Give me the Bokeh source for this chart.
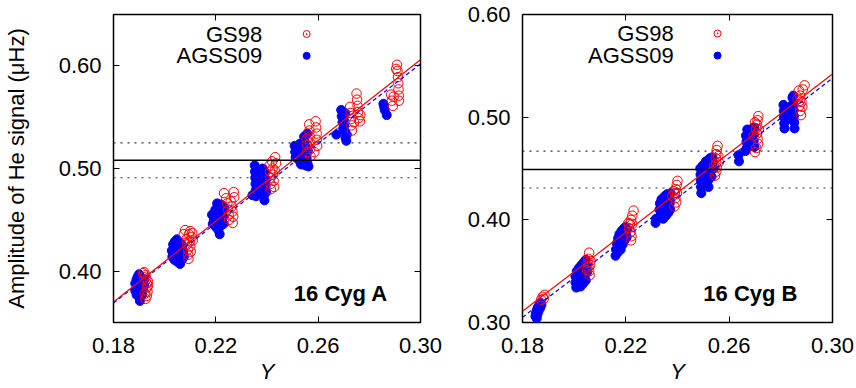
from bokeh.plotting import figure
from bokeh.layouts import row
from bokeh.models import Range1d, LinearAxis, FixedTicker, NumeralTickFormatter, Span, Label
from bokeh.embed import file_html
from bokeh.resources import INLINE

FONT = "Liberation Sans"

# ---------------- data ----------------
x_ticks = [0.18, 0.22, 0.26, 0.30]
yA_ticks = [0.40, 0.50, 0.60]
yB_ticks = [0.30, 0.40, 0.50, 0.60]

# 16 Cyg A, AGSS09 (filled blue)
A_agss_Y = [0.1885, 0.1885, 0.1890, 0.1890, 0.1890, 0.1895, 0.1895, 0.1895, 0.1900, 0.1900, 0.1900, 0.1900,
            0.1903, 0.1905, 0.1905, 0.1905, 0.1910, 0.1910, 0.1912, 0.1915, 0.1915, 0.1920, 0.1920,
            0.2028, 0.2030, 0.2033, 0.2035, 0.2038, 0.2040, 0.2042, 0.2045, 0.2048, 0.2050, 0.2050, 0.2053,
            0.2055, 0.2058, 0.2060, 0.2062, 0.2065, 0.2068, 0.2070, 0.2073, 0.2075,
            0.2185, 0.2188, 0.2192, 0.2198, 0.2200, 0.2203, 0.2205, 0.2207, 0.2208, 0.2210, 0.2212, 0.2213,
            0.2215, 0.2217, 0.2218, 0.2220, 0.2222, 0.2225, 0.2228, 0.2230, 0.2232,
            0.2343, 0.2352, 0.2353, 0.2354, 0.2355, 0.2356, 0.2357, 0.2365, 0.2368, 0.2372, 0.2380, 0.2383,
            0.2385, 0.2387, 0.2388, 0.2390, 0.2392, 0.2393, 0.2395, 0.2397,
            0.2508, 0.2510, 0.2512, 0.2520, 0.2525, 0.2528, 0.2530, 0.2533, 0.2538, 0.2540, 0.2545, 0.2547,
            0.2548, 0.2550, 0.2552, 0.2555, 0.2557, 0.2558, 0.2560, 0.2562,
            0.2671, 0.2690, 0.2692, 0.2695, 0.2698, 0.2700, 0.2702, 0.2705, 0.2707, 0.2710, 0.2712, 0.2706,
            0.2855, 0.2860, 0.2868, 0.2858]
A_agss_amp = [0.388, 0.381, 0.392, 0.384, 0.377, 0.395, 0.388, 0.380, 0.397, 0.390, 0.383, 0.375,
              0.371, 0.393, 0.386, 0.379, 0.391, 0.384, 0.377, 0.389, 0.382, 0.392, 0.386,
              0.420, 0.414, 0.426, 0.418, 0.411, 0.429, 0.422, 0.416, 0.431, 0.425, 0.409, 0.419,
              0.413, 0.428, 0.407, 0.422, 0.416, 0.411, 0.425, 0.419, 0.414,
              0.455, 0.446, 0.450, 0.460, 0.443, 0.453, 0.466, 0.458, 0.447, 0.440, 0.462, 0.451,
              0.436, 0.456, 0.444, 0.465, 0.449, 0.459, 0.453, 0.446, 0.462,
              0.474, 0.503, 0.497, 0.491, 0.485, 0.479, 0.473, 0.488, 0.481, 0.476, 0.494, 0.500,
              0.487, 0.480, 0.474, 0.469, 0.496, 0.490, 0.483, 0.477,
              0.522, 0.516, 0.511, 0.519, 0.508, 0.524, 0.514, 0.504, 0.520, 0.509, 0.531, 0.526,
              0.515, 0.503, 0.521, 0.510, 0.534, 0.505, 0.517, 0.502,
              0.533, 0.557, 0.551, 0.545, 0.539, 0.548, 0.542, 0.536, 0.530, 0.527, 0.533, 0.554,
              0.563, 0.557, 0.552, 0.560]

# 16 Cyg A, GS98 (open red)
A_gs98_Y = [0.1915, 0.1920, 0.1925, 0.1928, 0.1930, 0.1932, 0.1933, 0.1930, 0.1925, 0.1922, 0.1920, 0.1935, 0.1935,
            0.2075, 0.2080, 0.2085, 0.2088, 0.2090, 0.2092, 0.2093, 0.2095, 0.2100, 0.2098, 0.2100, 0.2102,
            0.2105, 0.2108, 0.2110,
            0.2232, 0.2240, 0.2245, 0.2248, 0.2250, 0.2252, 0.2258, 0.2262, 0.2265, 0.2268, 0.2270, 0.2272, 0.2266,
            0.2410, 0.2412, 0.2413, 0.2414, 0.2415, 0.2420, 0.2422, 0.2424, 0.2426, 0.2428, 0.2432, 0.2435, 0.2430,
            0.2555, 0.2556, 0.2557, 0.2565, 0.2566, 0.2567, 0.2568, 0.2569, 0.2570, 0.2590, 0.2592, 0.2594,
            0.2595, 0.2596, 0.2585,
            0.2725, 0.2727, 0.2728, 0.2730, 0.2732, 0.2740, 0.2750, 0.2752, 0.2754, 0.2756, 0.2758, 0.2765, 0.2763,
            0.2908, 0.2910, 0.2912, 0.2913, 0.2914, 0.2915, 0.2916, 0.2885, 0.2888, 0.2892, 0.2895, 0.2905]
A_gs98_amp = [0.398, 0.399, 0.396, 0.392, 0.388, 0.384, 0.380, 0.376, 0.373, 0.378, 0.394, 0.390, 0.386,
              0.436, 0.440, 0.431, 0.426, 0.421, 0.416, 0.412, 0.436, 0.439, 0.429, 0.424, 0.419,
              0.433, 0.437, 0.430,
              0.476, 0.471, 0.466, 0.460, 0.455, 0.450, 0.468, 0.463, 0.458, 0.453, 0.477, 0.472, 0.447,
              0.503, 0.497, 0.491, 0.485, 0.480, 0.507, 0.500, 0.494, 0.488, 0.482, 0.511, 0.505, 0.498,
              0.529, 0.523, 0.516, 0.543, 0.537, 0.531, 0.525, 0.519, 0.512, 0.546, 0.540, 0.534,
              0.528, 0.522, 0.516,
              0.560, 0.554, 0.548, 0.542, 0.537, 0.545, 0.573, 0.567, 0.561, 0.555, 0.549, 0.552, 0.546,
              0.601, 0.595, 0.589, 0.583, 0.577, 0.571, 0.566, 0.572, 0.566, 0.561, 0.570, 0.597]

# 16 Cyg B, AGSS09 (filled blue)
B_agss_Y = [0.1850, 0.1852, 0.1855, 0.1858, 0.1860, 0.1862, 0.1865, 0.1868, 0.1870, 0.1873, 0.1855,
            0.2005, 0.2005, 0.2008, 0.2010, 0.2012, 0.2015, 0.2018, 0.2020, 0.2022, 0.2025, 0.2028, 0.2030,
            0.2032, 0.2035, 0.2038, 0.2040, 0.2042, 0.2045, 0.2048, 0.2050, 0.2045,
            0.2160, 0.2162, 0.2165, 0.2168, 0.2170, 0.2173, 0.2175, 0.2178, 0.2180, 0.2183, 0.2185, 0.2188,
            0.2190, 0.2193, 0.2195, 0.2198, 0.2200, 0.2203, 0.2205,
            0.2315, 0.2317, 0.2330, 0.2332, 0.2335, 0.2338, 0.2340, 0.2342, 0.2345, 0.2348, 0.2350, 0.2352,
            0.2355, 0.2358, 0.2360, 0.2362, 0.2365, 0.2368, 0.2370, 0.2373, 0.2372,
            0.2488, 0.2489, 0.2490, 0.2491, 0.2492, 0.2498, 0.2500, 0.2502, 0.2505, 0.2510, 0.2512, 0.2515,
            0.2518, 0.2520, 0.2525, 0.2528, 0.2530, 0.2532, 0.2535, 0.2538, 0.2540,
            0.2636, 0.2638, 0.2663, 0.2665, 0.2667, 0.2668, 0.2670, 0.2673, 0.2675, 0.2680, 0.2683, 0.2685,
            0.2690, 0.2692, 0.2695, 0.2697, 0.2698,
            0.2810, 0.2812, 0.2813, 0.2814, 0.2811, 0.2838, 0.2840, 0.2842, 0.2845, 0.2847, 0.2849, 0.2851,
            0.2852, 0.2853, 0.2848]
B_agss_amp = [0.306, 0.309, 0.312, 0.308, 0.315, 0.311, 0.317, 0.314, 0.319, 0.317, 0.304,
              0.345, 0.339, 0.334, 0.350, 0.343, 0.337, 0.353, 0.347, 0.340, 0.335, 0.356, 0.350,
              0.344, 0.338, 0.359, 0.353, 0.347, 0.361, 0.355, 0.349, 0.341,
              0.365, 0.371, 0.377, 0.368, 0.382, 0.374, 0.386, 0.379, 0.371, 0.389, 0.383, 0.376,
              0.391, 0.386, 0.380, 0.393, 0.388, 0.383, 0.391,
              0.397, 0.401, 0.410, 0.416, 0.404, 0.420, 0.412, 0.406, 0.401, 0.417, 0.423, 0.410,
              0.404, 0.418, 0.425, 0.413, 0.407, 0.421, 0.416, 0.426, 0.410,
              0.450, 0.444, 0.438, 0.432, 0.426, 0.453, 0.447, 0.441, 0.435, 0.457, 0.450, 0.444,
              0.438, 0.432, 0.460, 0.454, 0.448, 0.442, 0.461, 0.456, 0.450,
              0.463, 0.457, 0.467, 0.482, 0.476, 0.470, 0.488, 0.480, 0.474, 0.485, 0.478, 0.472,
              0.489, 0.483, 0.477, 0.490, 0.471,
              0.512, 0.500, 0.494, 0.489, 0.506, 0.510, 0.504, 0.498, 0.519, 0.513, 0.507, 0.501,
              0.495, 0.489, 0.521]

# 16 Cyg B, GS98 (open red)
B_gs98_Y = [0.1872, 0.1878, 0.1885, 0.1882,
            0.2058, 0.2055, 0.2052, 0.2055, 0.2058, 0.2060, 0.2062, 0.2050, 0.2063,
            0.2230, 0.2225, 0.2220, 0.2215, 0.2212, 0.2218, 0.2222, 0.2225, 0.2210, 0.2220,
            0.2400, 0.2397, 0.2393, 0.2390, 0.2392, 0.2395, 0.2385, 0.2380, 0.2398, 0.2388,
            0.2555, 0.2552, 0.2550, 0.2548, 0.2550, 0.2552, 0.2550, 0.2545, 0.2558, 0.2560, 0.2542,
            0.2713, 0.2710, 0.2707, 0.2705, 0.2708, 0.2710, 0.2712, 0.2705, 0.2700, 0.2715, 0.2700, 0.2695,
            0.2892, 0.2885, 0.2870, 0.2875, 0.2873, 0.2872, 0.2875, 0.2878, 0.2880, 0.2883, 0.2865]
B_gs98_amp = [0.322, 0.325, 0.327, 0.323,
              0.368, 0.362, 0.358, 0.354, 0.350, 0.346, 0.356, 0.351, 0.360,
              0.409, 0.404, 0.400, 0.396, 0.392, 0.388, 0.384, 0.396, 0.397, 0.380,
              0.438, 0.434, 0.430, 0.426, 0.421, 0.417, 0.428, 0.423, 0.426, 0.413,
              0.472, 0.468, 0.464, 0.460, 0.455, 0.451, 0.447, 0.443, 0.462, 0.456, 0.452,
              0.501, 0.497, 0.493, 0.489, 0.484, 0.479, 0.474, 0.470, 0.466, 0.488, 0.495, 0.482,
              0.531, 0.527, 0.526, 0.521, 0.516, 0.511, 0.506, 0.502, 0.515, 0.510, 0.518]

# linear fits (end points over the Y range)
fit_Y = [0.18, 0.30]
A_fit_gs98 = [0.370, 0.606]
A_fit_agss = [0.369, 0.602]
B_fit_gs98 = [0.311, 0.542]
B_fit_agss = [0.305, 0.538]

# observed amplitude and 1-sigma band
A_obs, A_err = 0.508, 0.017
B_obs, B_err = 0.449, 0.018

RED = "#ff0000"
BLUE = "#0000ff"


def make_panel(width, yr, yticks, border_left, border_right, ylabel,
               agY, agA, gsY, gsA, fit_gs, fit_ag, obs, err, name, leg_pos, name_pos):
    p = figure(width=width, height=388, output_backend="svg", toolbar_location=None,
               x_range=Range1d(0.18, 0.30), y_range=Range1d(*yr),
               min_border_left=border_left, min_border_right=border_right,
               min_border_top=14, min_border_bottom=66, x_axis_location=None, y_axis_location=None)
    p.background_fill_color = "white"
    p.border_fill_color = "white"
    p.outline_line_color = "black"
    p.outline_line_width = 1.5
    p.xgrid.visible = False
    p.ygrid.visible = False

    def style(ax, show_labels):
        ax.axis_line_color = None
        ax.major_tick_in = 6
        ax.major_tick_out = 0
        ax.major_tick_line_color = "black"
        ax.major_tick_line_width = 1
        ax.minor_tick_line_color = None
        ax.formatter = NumeralTickFormatter(format="0.00")
        ax.major_label_text_font = FONT
        if show_labels:
            ax.major_label_text_color = "black"
            ax.major_label_text_font_size = "22px"
            ax.major_label_standoff = 12
        else:
            ax.major_label_text_color = None
            ax.major_label_text_font_size = "1px"
            ax.major_label_standoff = 0

    xb = LinearAxis(ticker=FixedTicker(ticks=x_ticks))
    style(xb, True)
    xb.major_label_standoff = 15
    xb.axis_label = "Y"
    xb.axis_label_text_font = FONT
    xb.axis_label_text_font_size = "22px"
    xb.axis_label_text_font_style = "italic"
    xb.axis_label_text_color = "black"
    xb.axis_label_standoff = 3
    p.add_layout(xb, "below")
    xt = LinearAxis(ticker=FixedTicker(ticks=x_ticks))
    style(xt, False)
    p.add_layout(xt, "above")
    yl = LinearAxis(ticker=FixedTicker(ticks=yticks))
    style(yl, True)
    if ylabel:
        yl.axis_label = ylabel
        yl.axis_label_text_font = FONT
        yl.axis_label_text_font_size = "22px"
        yl.axis_label_text_font_style = "normal"
        yl.axis_label_text_color = "black"
        yl.axis_label_standoff = 27
    p.add_layout(yl, "left")
    yrt = LinearAxis(ticker=FixedTicker(ticks=yticks))
    style(yrt, False)
    p.add_layout(yrt, "right")

    # points
    p.scatter(agY, agA, marker="circle", size=9, fill_color=BLUE, line_color=BLUE)
    p.scatter(gsY, gsA, marker="circle", size=9.5, fill_color=None, line_color=RED, line_width=1)

    # fit lines
    p.line(fit_Y, fit_ag, line_color=BLUE, line_width=1.2, line_dash="4 3")
    p.line(fit_Y, fit_gs, line_color=RED, line_width=1.2)

    # observed value and error band
    p.add_layout(Span(location=obs, dimension="width", line_color="black", line_width=1.6))
    p.add_layout(Span(location=obs + err, dimension="width", line_color="#333333", line_width=1.2, line_dash="2 5"))
    p.add_layout(Span(location=obs - err, dimension="width", line_color="#333333", line_width=1.2, line_dash="2 5"))

    # legend (gnuplot style: text then key)
    tx, kx, y1, y2 = leg_pos
    p.add_layout(Label(x=tx, y=y1, text="GS98", text_align="right", text_baseline="middle",
                       text_font=FONT, text_font_size="22px", text_color="black"))
    p.add_layout(Label(x=tx, y=y2, text="AGSS09", text_align="right", text_baseline="middle",
                       text_font=FONT, text_font_size="22px", text_color="black"))
    p.scatter([kx], [y1], marker="circle_dot", size=7, fill_color=None, line_color=RED, line_width=1)
    p.scatter([kx], [y2], marker="circle", size=7, fill_color=BLUE, line_color=BLUE)

    # star name
    p.add_layout(Label(x=name_pos[0], y=name_pos[1], text=name, text_align="left", text_baseline="middle",
                       text_font=FONT, text_font_size="22px", text_font_style="bold", text_color="black"))
    return p


p1 = make_panel(455, (0.35, 0.65), yA_ticks, 110, 35, "Amplitude of He signal (\u03bcHz)",
                A_agss_Y, A_agss_amp, A_gs98_Y, A_gs98_amp, A_fit_gs98, A_fit_agss, A_obs, A_err,
                "16 Cyg A", (0.2381, 0.2555, 0.631, 0.6097), (0.2505, 0.3786))
p2 = make_panel(401, (0.30, 0.60), yB_ticks, 67, 24, None,
                B_agss_Y, B_agss_amp, B_gs98_Y, B_gs98_amp, B_fit_gs98, B_fit_agss, B_obs, B_err,
                "16 Cyg B", (0.2385, 0.2555, 0.5815, 0.560), (0.250, 0.328))

layout = row(p1, p2)
open("out.html", "w").write(file_html(layout, INLINE))
